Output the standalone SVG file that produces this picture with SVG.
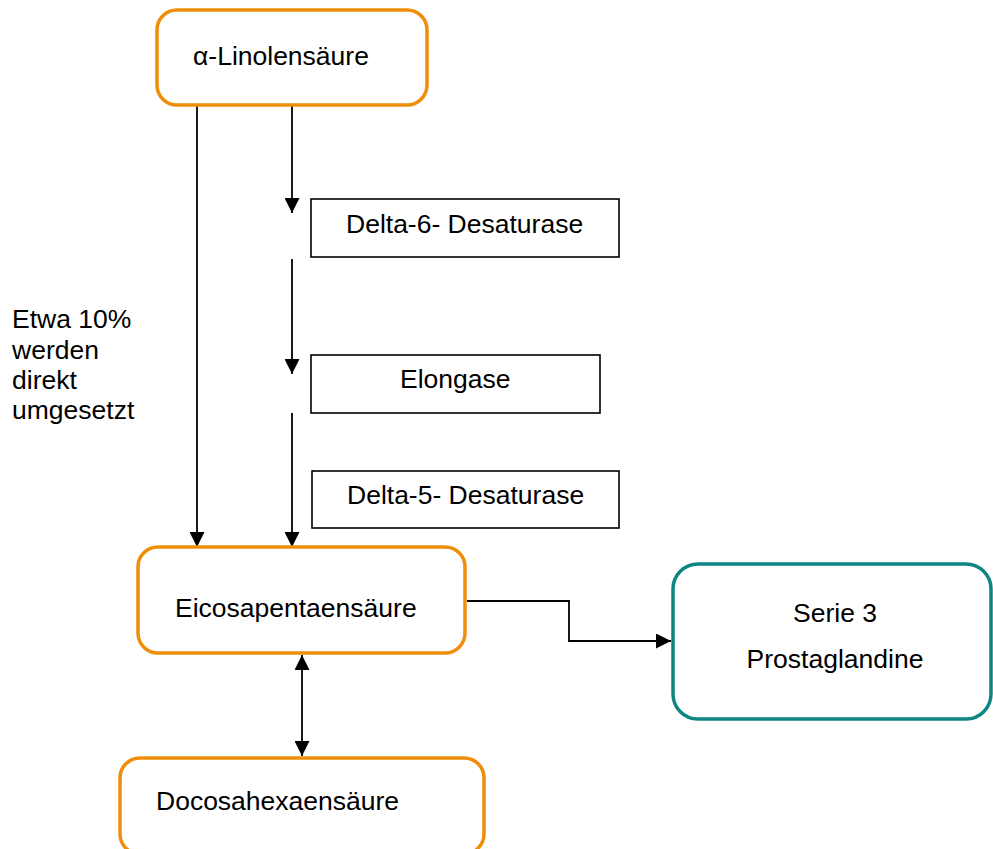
<svg xmlns="http://www.w3.org/2000/svg" width="993" height="849" viewBox="0 0 993 849">
<style>
.n{fill:#fff;stroke:#EE8E0A;stroke-width:3.5}
.t{fill:#fff;stroke:#0E8585;stroke-width:3.5}
.b{fill:#fff;stroke:#000;stroke-width:1.6}
.c{fill:none;stroke:#000;stroke-width:1.8}
text{font-family:"Liberation Sans",Arial,sans-serif;font-size:26.5px;fill:#000}
</style>
<defs>
<marker id="ah" markerUnits="userSpaceOnUse" markerWidth="15" markerHeight="15" viewBox="0 0 15 15" refX="15" refY="7.5" orient="auto-start-reverse">
<path d="M0,0 L15,7.5 L0,15 Z" fill="#000"/>
</marker>
</defs>
<g id="connectors">
<path class="c" d="M197,105 V547" marker-end="url(#ah)"/>
<path class="c" d="M292,105 V213" marker-end="url(#ah)"/>
<path class="c" d="M292,259 V374" marker-end="url(#ah)"/>
<path class="c" d="M292,413 V547" marker-end="url(#ah)"/>
<path class="c" d="M467,601 H569 V641 H671" marker-end="url(#ah)"/>
<path class="c" d="M302,655 V756" marker-start="url(#ah)" marker-end="url(#ah)"/>
</g>
<g id="linolen">
<rect class="n" x="157" y="10" width="270" height="95" rx="20"/>
<text x="193" y="65">α-Linolensäure</text>
</g>
<g id="delta6">
<rect class="b" x="311" y="199" width="308" height="58"/>
<text x="346" y="233">Delta-6- Desaturase</text>
</g>
<g id="elongase">
<rect class="b" x="311" y="355" width="289" height="58"/>
<text x="400" y="388">Elongase</text>
</g>
<g id="delta5">
<rect class="b" x="312" y="471" width="307" height="57"/>
<text x="347" y="504">Delta-5- Desaturase</text>
</g>
<g id="note">
<text x="12" y="328">Etwa 10%</text>
<text x="12" y="359">werden</text>
<text x="12" y="389">direkt</text>
<text x="12" y="419">umgesetzt</text>
</g>
<g id="eicosa">
<rect class="n" x="138" y="547" width="327" height="106" rx="20"/>
<text x="175" y="617">Eicosapentaensäure</text>
</g>
<g id="prosta">
<rect class="t" x="673" y="564" width="318" height="155" rx="25"/>
<text x="835" y="622" text-anchor="middle">Serie 3</text>
<text x="835" y="668" text-anchor="middle">Prostaglandine</text>
</g>
<g id="docosa">
<rect class="n" x="120" y="758" width="364" height="96" rx="20"/>
<text x="156" y="810">Docosahexaensäure</text>
</g>
</svg>
